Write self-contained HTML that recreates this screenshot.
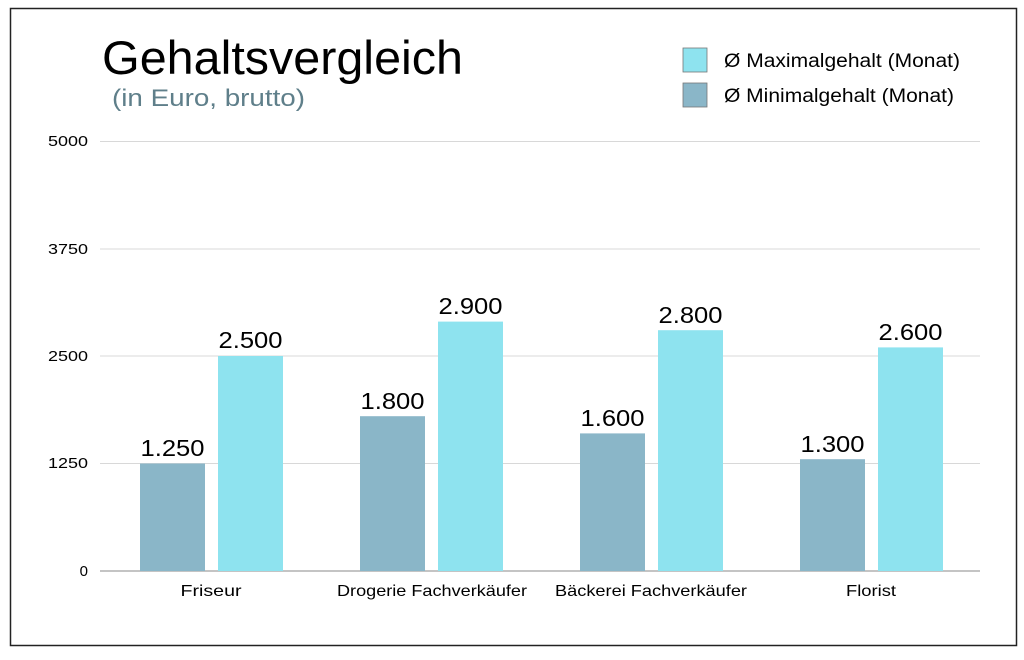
<!DOCTYPE html>
<html><head><meta charset="utf-8"><style>
body{margin:0;background:#fff;}
svg text{font-family:"Liberation Sans",sans-serif;}
</style></head><body>
<svg width="1024" height="655" xmlns="http://www.w3.org/2000/svg">
<rect x="0" y="0" width="1024" height="655" fill="#fff"/>
<rect x="10.5" y="8.5" width="1006" height="637" fill="none" stroke="#222" stroke-width="1.5"/>
<text x="102" y="74" font-size="47" fill="#000" textLength="361" lengthAdjust="spacingAndGlyphs">Gehaltsvergleich</text>
<text x="112" y="106" font-size="24" fill="#5f7f8a" textLength="193" lengthAdjust="spacingAndGlyphs">(in Euro, brutto)</text>
<rect x="683" y="48" width="24" height="24" fill="#8ee3ef" stroke="#777" stroke-width="0.8"/>
<rect x="683" y="83" width="24" height="24" fill="#8ab6c8" stroke="#777" stroke-width="0.8"/>
<text x="724" y="67" font-size="19" textLength="236" lengthAdjust="spacingAndGlyphs">Ø Maximalgehalt (Monat)</text>
<text x="724" y="102" font-size="19" textLength="230" lengthAdjust="spacingAndGlyphs">Ø Minimalgehalt (Monat)</text>
<g stroke="#d8d8d8" stroke-width="1">
<line x1="100" y1="141.5" x2="980" y2="141.5"/>
<line x1="100" y1="249" x2="980" y2="249"/>
<line x1="100" y1="356" x2="980" y2="356"/>
<line x1="100" y1="463.5" x2="980" y2="463.5"/>
</g>
<line x1="100" y1="571" x2="980" y2="571" stroke="#888" stroke-width="1"/>
<g font-size="15" text-anchor="end">
<text x="88" y="146" textLength="40" lengthAdjust="spacingAndGlyphs">5000</text>
<text x="88" y="254" textLength="40" lengthAdjust="spacingAndGlyphs">3750</text>
<text x="88" y="361" textLength="40" lengthAdjust="spacingAndGlyphs">2500</text>
<text x="88" y="468" textLength="40" lengthAdjust="spacingAndGlyphs">1250</text>
<text x="88" y="576">0</text>
</g>
<g fill="#8ab6c8">
<rect x="140" y="463.5" width="65" height="107.5"/>
<rect x="360" y="416.2" width="65" height="154.8"/>
<rect x="580" y="433.4" width="65" height="137.6"/>
<rect x="800" y="459.2" width="65" height="111.8"/>
</g>
<g fill="#8ee3ef">
<rect x="218" y="356" width="65" height="215"/>
<rect x="438" y="321.6" width="65" height="249.4"/>
<rect x="658" y="330.2" width="65" height="240.8"/>
<rect x="878" y="347.4" width="65" height="223.6"/>
</g>
<g font-size="23" text-anchor="middle">
<text x="172.5" y="456" textLength="64" lengthAdjust="spacingAndGlyphs">1.250</text>
<text x="250.5" y="348" textLength="64" lengthAdjust="spacingAndGlyphs">2.500</text>
<text x="392.5" y="409" textLength="64" lengthAdjust="spacingAndGlyphs">1.800</text>
<text x="470.5" y="314" textLength="64" lengthAdjust="spacingAndGlyphs">2.900</text>
<text x="612.5" y="426" textLength="64" lengthAdjust="spacingAndGlyphs">1.600</text>
<text x="690.5" y="323" textLength="64" lengthAdjust="spacingAndGlyphs">2.800</text>
<text x="832.5" y="452" textLength="64" lengthAdjust="spacingAndGlyphs">1.300</text>
<text x="910.5" y="340" textLength="64" lengthAdjust="spacingAndGlyphs">2.600</text>
</g>
<g font-size="16" text-anchor="middle">
<text x="211" y="596" textLength="61" lengthAdjust="spacingAndGlyphs">Friseur</text>
<text x="432" y="596" textLength="190" lengthAdjust="spacingAndGlyphs">Drogerie Fachverkäufer</text>
<text x="651" y="596" textLength="192" lengthAdjust="spacingAndGlyphs">Bäckerei Fachverkäufer</text>
<text x="871" y="596" textLength="50" lengthAdjust="spacingAndGlyphs">Florist</text>
</g>
</svg>
</body></html>
